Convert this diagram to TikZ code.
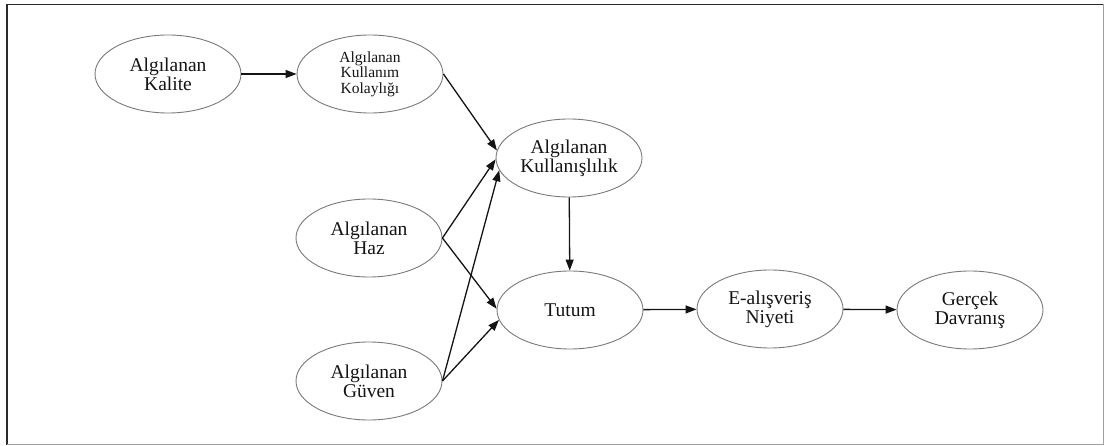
\documentclass[tikz,border=0pt]{standalone}
\usepackage{fontspec}
\setmainfont{Liberation Serif}
\usetikzlibrary{arrows.meta,shapes.geometric}
\definecolor{ink}{HTML}{141414}
\definecolor{rim}{HTML}{7A7A7A}
\definecolor{framedark}{HTML}{2A2A2A}
\definecolor{framelight}{HTML}{A0A0A0}

\begin{document}
\begin{tikzpicture}[
  x=1pt,y=-1pt,
  font=\fontsize{19.5}{19}\selectfont,
  construct/.style={ellipse,draw=rim,line width=.9pt,fill=white,text=ink,align=center,inner sep=0pt,minimum width=146pt,minimum height=78pt},
  small/.style={font=\fontsize{15.5}{15.5}\selectfont},
  arrow/.style={-{Triangle[length=11pt,width=8pt]},line width=1.3pt,draw=ink}
]
\useasboundingbox (0,0) rectangle (1105,446);
% outer frame, dark on top/left, grey on right/bottom
\draw[draw=framedark,line width=1.8pt] (7,444.5) -- (7,4.5) -- (1103.5,4.5);
\draw[draw=framelight,line width=1.8pt] (1103.5,4.5) -- (1103.5,444.5) -- (7,444.5);

\node[construct] (kalite) at (168,74) {Algılanan\\Kalite};
\node[construct,small] (kolay) at (370,74) {Algılanan\\Kullanım\\Kolaylığı};
\node[construct] (fayda) at (569,158) {Algılanan\\Kullanışlılık};
\node[construct] (haz) at (369,238) {Algılanan\\Haz};
\node[construct] (tutum) at (570,310) {Tutum};
\node[construct] (guven) at (369,381) {Algılanan\\Güven};
\node[construct] (niyet) at (770,309) {E-alışveriş\\Niyeti};
\node[construct] (davran) at (970,310) {Gerçek\\Davranış};

\draw[arrow] (kalite) -- (kolay);
\draw[arrow] (kolay.east) -- (fayda.174);
\draw[arrow] (haz.east) -- (fayda.181);
\draw[arrow] (guven.east) -- (fayda.190);
\draw[arrow] (haz.east) -- (tutum.179);
\draw[arrow] (guven.east) -- (tutum.188);
\draw[arrow] (fayda) -- (tutum);
\draw[arrow] (tutum) -- (niyet);
\draw[arrow] (niyet) -- (davran);
\end{tikzpicture}
\end{document}
